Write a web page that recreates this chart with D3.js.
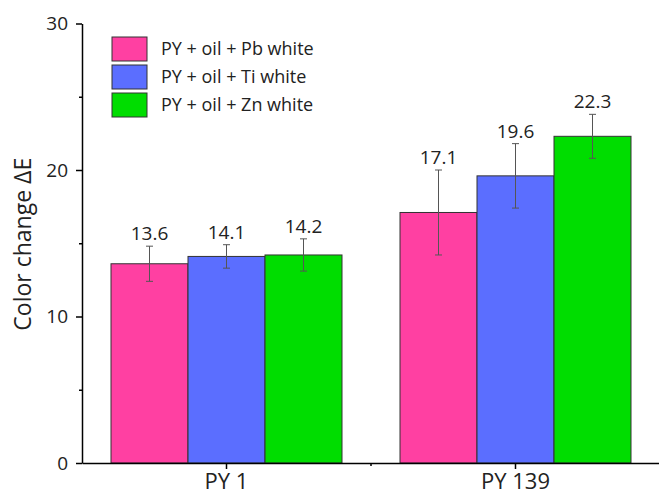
<!DOCTYPE html>
<html>
<head>
<meta charset="utf-8">
<script src="https://cdn.jsdelivr.net/npm/d3@7/dist/d3.min.js"></script>
<style>
  html, body { margin: 0; padding: 0; background: #fff; }
  svg { display: block; font-family: "Open Sans", sans-serif; }
</style>
</head>
<body>
<svg id="chart" width="659" height="499"></svg>
<script>
// Pigment groups on the x axis
const categories = ["PY 1", "PY 139"];
// Paint formulations (one bar per formulation in each group)
const seriesNames = ["PY + oil + Pb white", "PY + oil + Ti white", "PY + oil + Zn white"];
const seriesColors = ["#ff40a2", "#5b6eff", "#00dd00"];
// Mean colour change per formulation, listed by category
const pbWhite = [13.6, 17.1];
const tiWhite = [14.1, 19.6];
const znWhite = [14.2, 22.3];
// Standard deviations (error bar half-lengths)
const pbErr = [1.2, 2.9];
const tiErr = [0.8, 2.2];
const znErr = [1.1, 1.5];
const yTicks = [0, 10, 20, 30];
const yMinorTicks = [5, 15, 25];

const values = [pbWhite, tiWhite, znWhite];
const errors = [pbErr, tiErr, znErr];

const svg = d3.select("#chart");
const plotLeft = 82, plotRight = 660, plotTop = 23.5, plotBottom = 463;

const x = d3.scaleBand().domain(categories).range([plotLeft, plotRight]).padding(0);
const y = d3.scaleLinear().domain([0, 30]).range([plotBottom, plotTop]);
const barW = 77;
const xs = d3.scaleBand().domain(seriesNames).range([0, barW * 3]).padding(0);

const rows = [];
categories.forEach((c, ci) => {
  seriesNames.forEach((s, si) => {
    rows.push({ cat: c, series: s, si, v: values[si][ci], e: errors[si][ci] });
  });
});

const groupX = c => x(c) + x.bandwidth() / 2 - barW * 1.5;

// Bars
svg.append("g").selectAll("rect").data(rows).join("rect")
  .attr("x", d => groupX(d.cat) + xs(d.series))
  .attr("y", d => y(d.v))
  .attr("width", xs.bandwidth())
  .attr("height", d => y(0) - y(d.v))
  .attr("fill", d => seriesColors[d.si])
  .attr("stroke", "#333")
  .attr("stroke-width", 1);

// Error bars
const eb = svg.append("g").attr("stroke", "#555").attr("stroke-width", 1);
rows.forEach(d => {
  const cx = groupX(d.cat) + xs(d.series) + xs.bandwidth() / 2;
  eb.append("line").attr("x1", cx).attr("x2", cx).attr("y1", y(d.v + d.e)).attr("y2", y(d.v - d.e));
  [d.v + d.e, d.v - d.e].forEach(v => {
    eb.append("line").attr("x1", cx - 3.5).attr("x2", cx + 3.5).attr("y1", y(v)).attr("y2", y(v));
  });
});

// Value labels
svg.append("g").selectAll("text").data(rows).join("text")
  .attr("x", d => groupX(d.cat) + xs(d.series) + xs.bandwidth() / 2)
  .attr("y", d => y(d.v + d.e) - 6)
  .attr("text-anchor", "middle")
  .attr("font-size", 19)
  .attr("fill", "#222")
  .text(d => d.v.toFixed(1));

// Y axis
const yAxis = svg.append("g").attr("transform", `translate(${plotLeft},0)`)
  .call(d3.axisLeft(y).tickValues(yTicks).tickSize(6).tickPadding(8).tickSizeOuter(0));
yAxis.select(".domain").attr("stroke", "#000").attr("stroke-width", 1.5);
yAxis.selectAll(".tick line").attr("stroke", "#000").attr("stroke-width", 1.5);
yAxis.selectAll("text").attr("font-size", 19).attr("fill", "#222").attr("font-family", "Open Sans, sans-serif");
svg.append("g").attr("transform", `translate(${plotLeft},0)`)
  .call(d3.axisLeft(y).tickValues(yMinorTicks).tickSize(3).tickFormat(""))
  .call(g => g.select(".domain").remove())
  .selectAll("line").attr("stroke", "#000").attr("stroke-width", 1.5);

// X axis
const xAxis = svg.append("g").attr("transform", `translate(0,${plotBottom})`)
  .call(d3.axisBottom(x).tickSize(6).tickPadding(4).tickSizeOuter(0));
xAxis.select(".domain").attr("stroke", "#000").attr("stroke-width", 1.5);
xAxis.selectAll(".tick line").attr("stroke", "#000").attr("stroke-width", 1.5);
xAxis.selectAll("text").attr("font-size", 22).attr("fill", "#222").attr("font-family", "Open Sans, sans-serif");
// Minor ticks on band boundaries
svg.append("g").selectAll("line").data(categories.slice(1)).join("line")
  .attr("x1", d => x(d)).attr("x2", d => x(d))
  .attr("y1", plotBottom).attr("y2", plotBottom + 3)
  .attr("stroke", "#000").attr("stroke-width", 1.5);

// Y axis title
svg.append("text")
  .attr("transform", `translate(31,${(plotTop + plotBottom) / 2 + 1}) rotate(-90)`)
  .attr("text-anchor", "middle")
  .attr("font-size", 23)
  .attr("fill", "#222")
  .text("Color change ΔE");

// Legend
const lg = svg.append("g").attr("transform", "translate(112,37)");
seriesNames.forEach((s, i) => {
  lg.append("rect").attr("x", 0).attr("y", i * 28).attr("width", 35).attr("height", 24)
    .attr("fill", seriesColors[i]).attr("stroke", "#333").attr("stroke-width", 1);
  lg.append("text").attr("x", 49).attr("y", i * 28 + 12).attr("dy", "0.35em")
    .attr("font-size", 18).attr("fill", "#222").text(s);
});
</script>
</body>
</html>
